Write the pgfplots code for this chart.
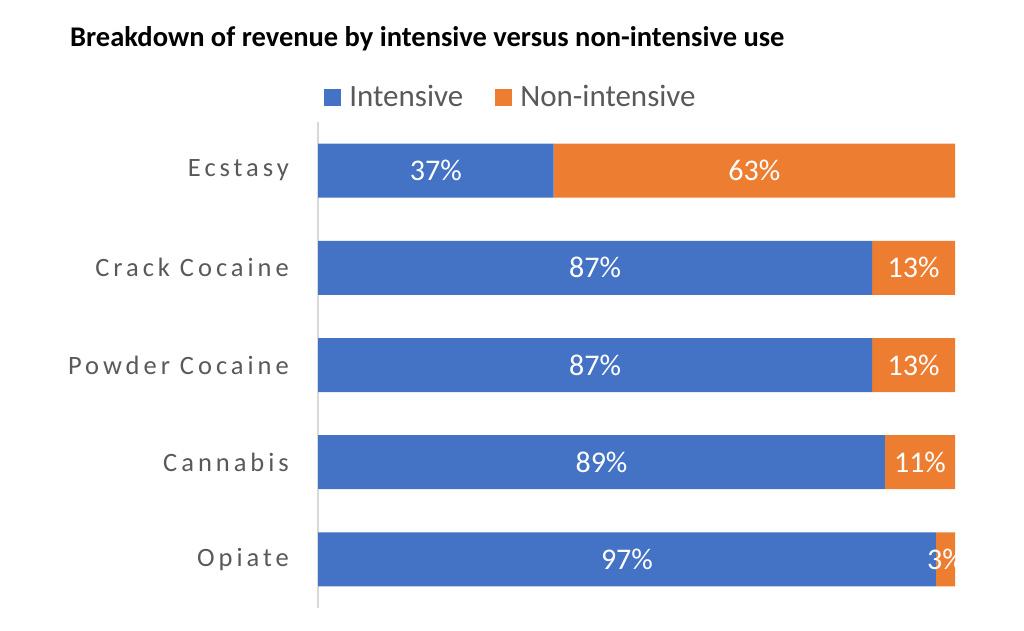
\documentclass[border=0pt]{standalone}
\usepackage{pgfplots}
\pgfplotsset{compat=1.18}
\usepackage{pgfplotstable}
\usepackage{fontspec}
\setmainfont{Carlito}
\newfontfamily\spaced[LetterSpace=15]{Carlito}
\definecolor{cblue}{HTML}{4472C4}
\definecolor{corange}{HTML}{ED7D31}
\definecolor{axgray}{HTML}{D9D9D9}
\definecolor{labgray}{HTML}{595959}

\pgfplotstableread{
y intensive non
0 97 3
1 89 11
2 87 13
3 87 13
4 37 63
}\datatable

% label positions (centre of each segment) and texts
\pgfplotstableread{
x y label
18.5 4 37
68.5 4 63
43.5 3 87
93.5 3 13
43.5 2 87
93.5 2 13
44.5 1 89
94.5 1 11
48.5 0 97
98.5 0 3
}\labeltable

\begin{document}
\begin{tikzpicture}
\useasboundingbox (0pt,0pt) rectangle (1024pt,630pt);
\node[anchor=base west, inner sep=0pt, font=\bfseries\fontsize{28.5}{30}\selectfont] at (70pt,583pt) {Breakdown of revenue by intensive versus non-intensive use};
\begin{axis}[
  at={(318pt,22pt)}, anchor=south west,
  width=637pt, height=486pt, scale only axis,
  xbar stacked, bar width=54pt,
  xmin=0, xmax=100, ymin=-0.5, ymax=4.5,
  hide x axis,
  axis y line*=left,
  y axis line style={draw=axgray, line width=1.2pt, -},
  ytick={0,1,2,3,4},
  yticklabels={Opiate,Cannabis,Powder Cocaine,Crack Cocaine,Ecstasy},
  major tick length=0pt,
  yticklabel style={font=\spaced\fontsize{26.5}{30}\selectfont, text=labgray, inner sep=0pt, xshift=-29pt},
  legend columns=2,
  legend cell align=left,
  legend image code/.code={\fill[#1] (0pt,-8.5pt) rectangle (17pt,8.5pt);},
  legend style={at={(0.303,1.0514)}, anchor=center, draw=none, fill=none,
    font=\fontsize{31}{31}\selectfont, text=labgray,
    /tikz/every even column/.append style={column sep=30pt},
    /tikz/every odd column/.append style={column sep=6pt},
    nodes={inner sep=2pt}},
]
\addplot[fill=cblue, draw=none] table[x=intensive, y=y] {\datatable};
\addlegendentry{Intensive}
\addplot[fill=corange, draw=none] table[x=non, y=y] {\datatable};
\addlegendentry{Non-intensive}
\end{axis}
\begin{axis}[
  at={(318pt,22pt)}, anchor=south west,
  width=637pt, height=486pt, scale only axis,
  xmin=0, xmax=100, ymin=-0.5, ymax=4.5,
  hide axis, clip=false,
]
\addplot[only marks, mark=none, point meta=explicit symbolic,
  nodes near coords={\pgfplotspointmeta\%},
  nodes near coords align={center},
  every node near coord/.append style={anchor=center, text=white, font=\fontsize{30}{30}\selectfont}]
  table[x=x, y=y, meta=label] {\labeltable};
\end{axis}
\end{tikzpicture}
\end{document}
